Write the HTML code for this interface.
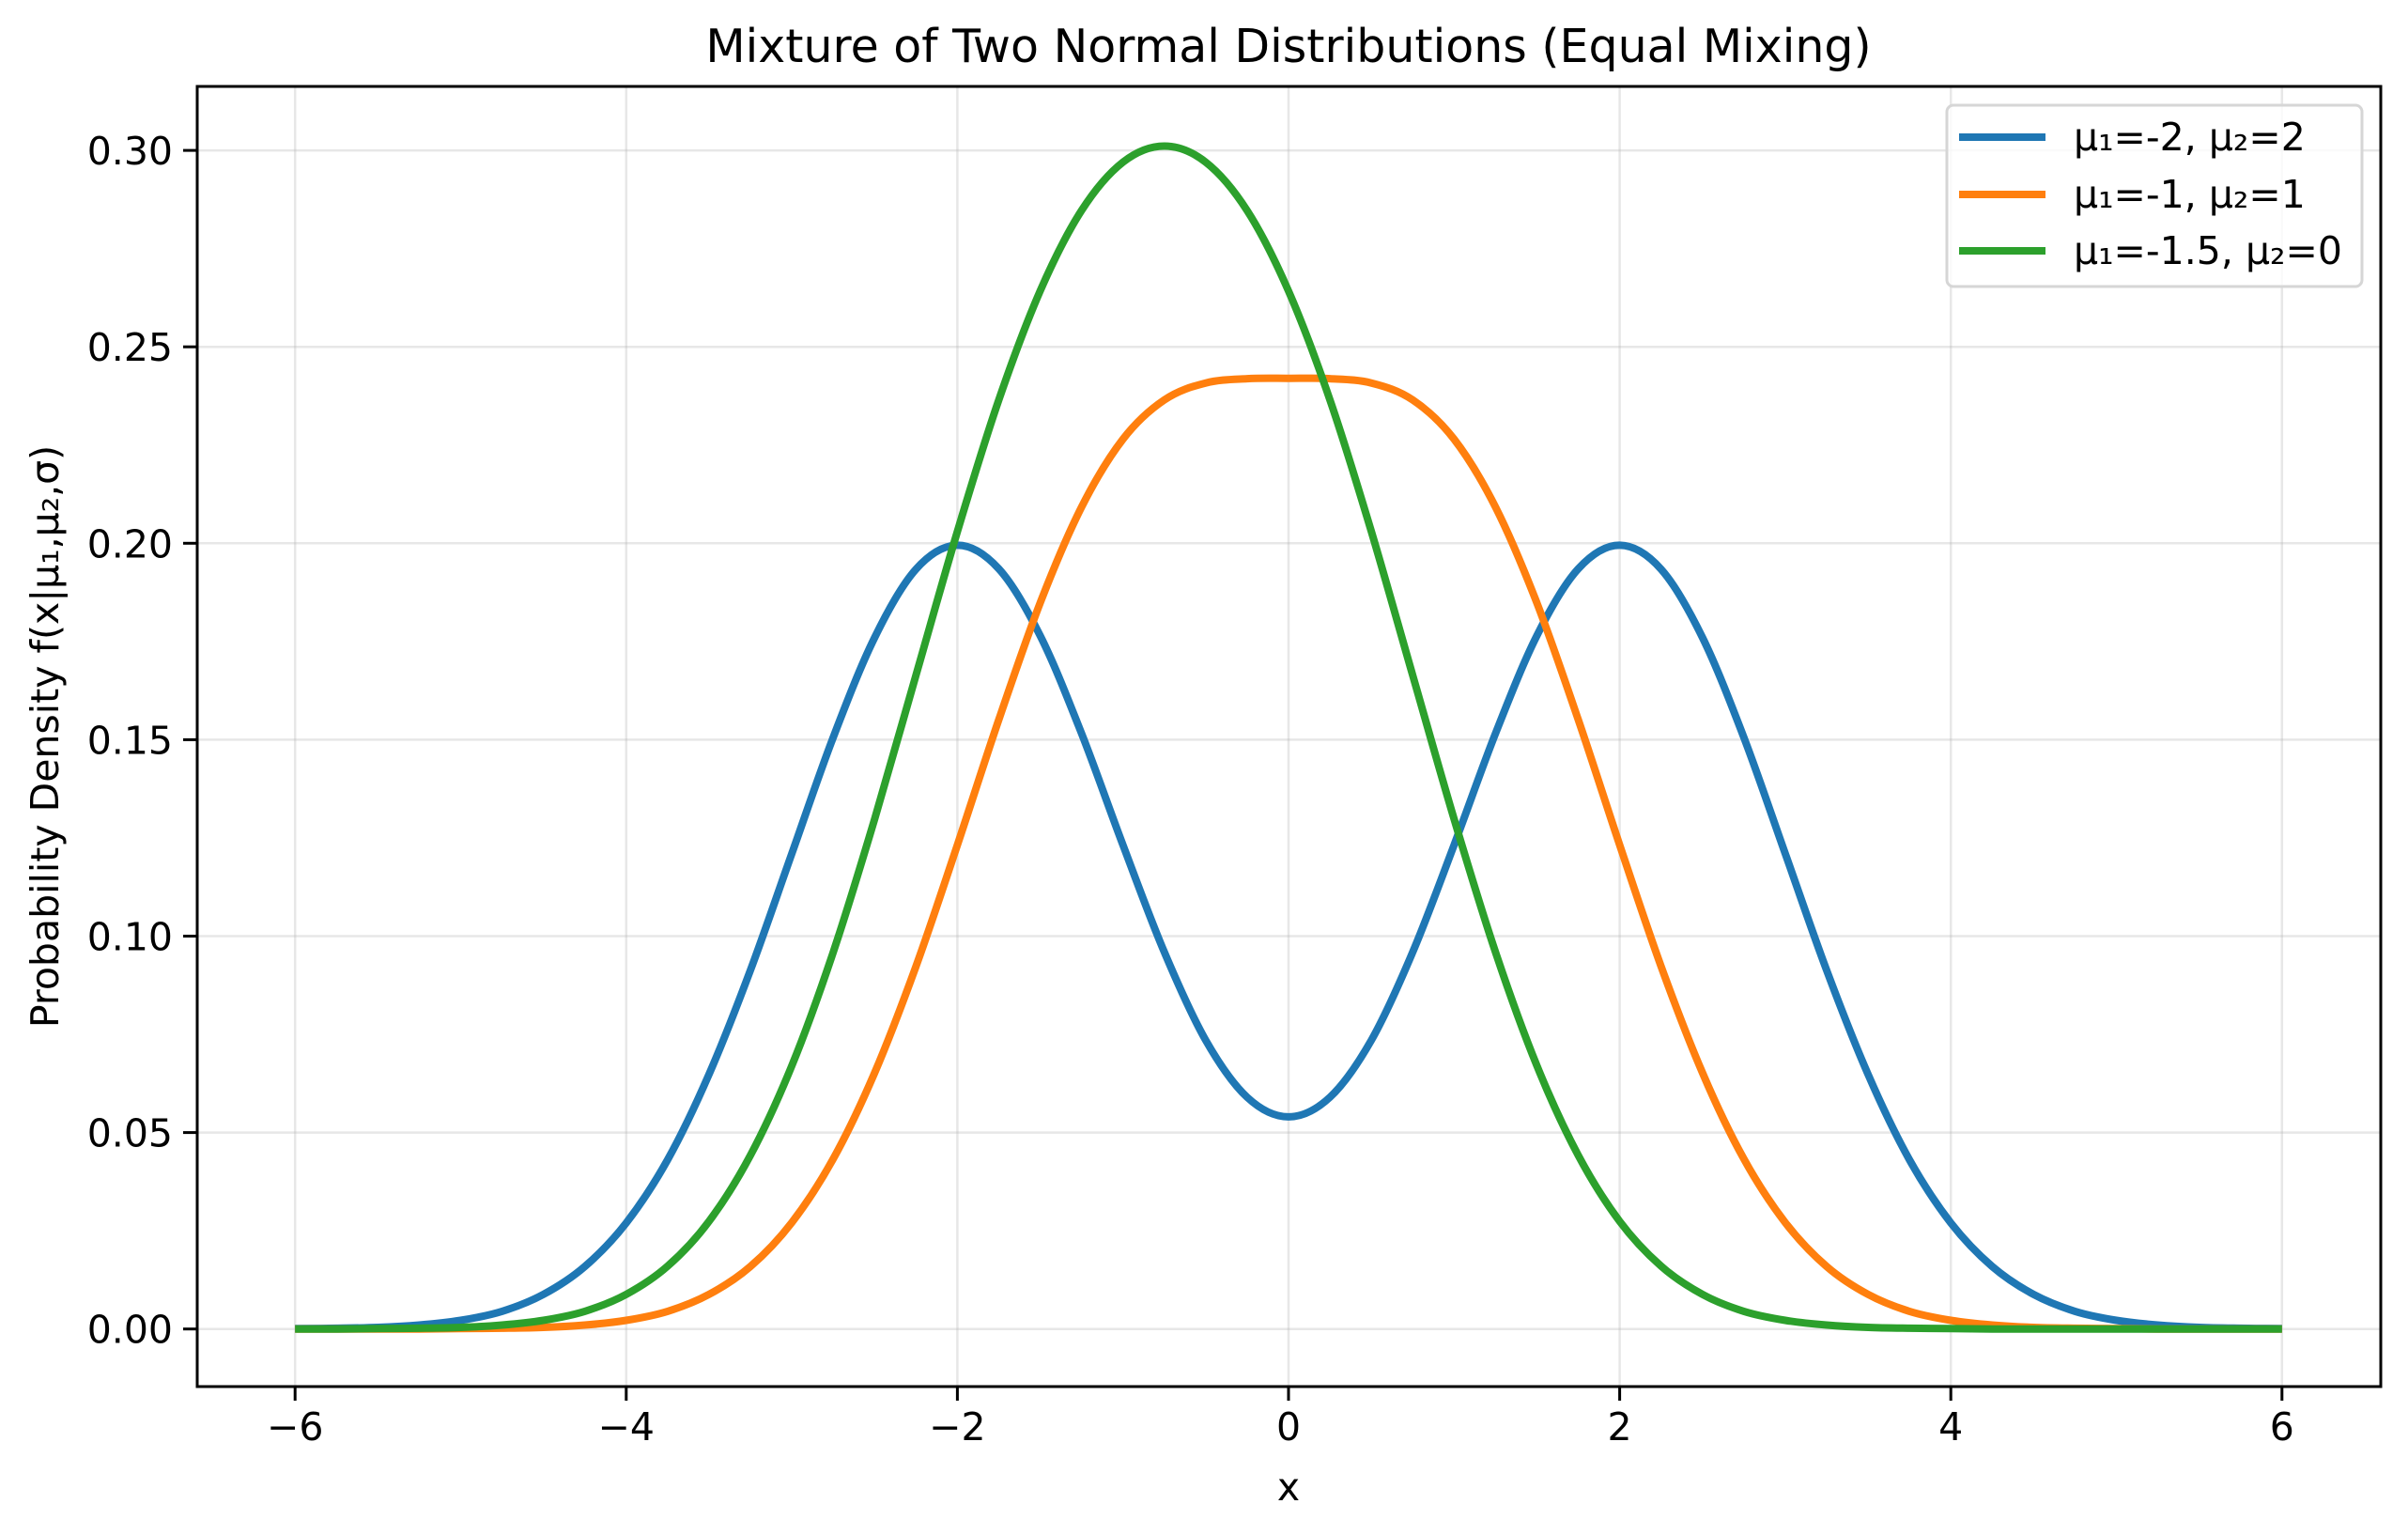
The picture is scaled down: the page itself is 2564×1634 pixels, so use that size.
<!DOCTYPE html>
<html><head><meta charset="utf-8"><style>
html,body{margin:0;padding:0;background:#fff;}
svg{display:block;font-family:"DejaVu Sans","Liberation Sans",sans-serif;}
</style></head><body>
<svg id="chart" width="2564" height="1634" xmlns="http://www.w3.org/2000/svg">
<rect width="2564" height="1634" fill="#fff"/>
<g id="grid"></g>
<g id="series"></g>
<rect x="210" y="92" width="2325" height="1384" fill="none" stroke="#000" stroke-width="3"/>
<g id="ticks"></g>
<text x="1372" y="66" text-anchor="middle" font-size="49">Mixture of Two Normal Distributions (Equal Mixing)</text>
<text x="1372" y="1597" text-anchor="middle" font-size="41">x</text>
<text x="0" y="0" transform="translate(62,784) rotate(-90)" text-anchor="middle" font-size="41">Probability Density f(x|μ₁,μ₂,σ)</text>
<g>
<rect x="2073" y="112" width="442" height="193" rx="7" fill="#fff" fill-opacity="0.8" stroke="#d6d6d6" stroke-width="3"/>
<line x1="2086" y1="146" x2="2178" y2="146" stroke="#1f77b4" stroke-width="8"/>
<text x="2208" y="160" font-size="41">μ₁=-2, μ₂=2</text>
<line x1="2086" y1="207" x2="2178" y2="207" stroke="#ff7f0e" stroke-width="8"/>
<text x="2208" y="221" font-size="41">μ₁=-1, μ₂=1</text>
<line x1="2086" y1="267" x2="2178" y2="267" stroke="#2ca02c" stroke-width="8"/>
<text x="2208" y="281" font-size="41">μ₁=-1.5, μ₂=0</text>
</g>
</svg>
<script>
const xValues = [-6,-5.75,-5.5,-5.25,-5,-4.75,-4.5,-4.25,-4,-3.75,-3.5,-3.25,-3,-2.75,-2.5,-2.25,-2,-1.75,-1.5,-1.25,-1,-0.75,-0.5,-0.25,0,0.25,0.5,0.75,1,1.25,1.5,1.75,2,2.25,2.5,2.75,3,3.25,3.5,3.75,4,4.25,4.5,4.75,5,5.25,5.5,5.75,6];
const blueValues = [0.0001,0.0002,0.0004,0.0010,0.0022,0.0045,0.0088,0.0159,0.0270,0.0431,0.0648,0.0913,0.1210,0.1506,0.1760,0.1934,0.1995,0.1935,0.1765,0.1516,0.1232,0.0959,0.0735,0.0590,0.0540,0.0590,0.0735,0.0959,0.1232,0.1516,0.1765,0.1935,0.1995,0.1934,0.1760,0.1506,0.1210,0.0913,0.0648,0.0431,0.0270,0.0159,0.0088,0.0045,0.0022,0.0010,0.0004,0.0002,0.0001];
const orangeValues = [0,0,0,0,0.0001,0.0002,0.0004,0.0010,0.0022,0.0045,0.0088,0.0159,0.0271,0.0433,0.0652,0.0923,0.1232,0.1551,0.1848,0.2092,0.2265,0.2365,0.2408,0.2419,0.2420,0.2419,0.2408,0.2365,0.2265,0.2092,0.1848,0.1551,0.1232,0.0923,0.0652,0.0433,0.0271,0.0159,0.0088,0.0045,0.0022,0.0010,0.0004,0.0002,0.0001,0,0,0,0];
const greenValues = [0,0,0.0001,0.0002,0.0004,0.0010,0.0022,0.0045,0.0088,0.0160,0.0274,0.0442,0.0670,0.0959,0.1298,0.1664,0.2030,0.2365,0.2642,0.2847,0.2970,0.3011,0.2970,0.2847,0.2642,0.2365,0.2030,0.1664,0.1298,0.0959,0.0670,0.0442,0.0274,0.0160,0.0088,0.0045,0.0022,0.0010,0.0004,0.0002,0.0001,0,0,0,0,0,0,0,0];
const xTicks = [-6,-4,-2,0,2,4,6];
const xTickLabels = ["−6","−4","−2","0","2","4","6"];
const yTicks = [0,0.05,0.10,0.15,0.20,0.25,0.30];
const yTickLabels = ["0.00","0.05","0.10","0.15","0.20","0.25","0.30"];

const NS = "http://www.w3.org/2000/svg";
const X = v => 1372 + v * 176.3;
const Y = v => 1414.7 - v * 4182;
function mk(tag, attrs, parent){const e=document.createElementNS(NS,tag);for(const k in attrs)e.setAttribute(k,attrs[k]);parent.appendChild(e);return e;}
const grid=document.getElementById('grid'), ticks=document.getElementById('ticks'), series=document.getElementById('series');
xTicks.forEach((t,i)=>{
  const g=mk('line',{x1:X(t),x2:X(t),y1:92,y2:1476,stroke:'#b0b0b0','stroke-opacity':0.3,'stroke-width':2.5},grid);
  
  
  const tk=mk('line',{x1:X(t),x2:X(t),y1:1476,y2:1491,stroke:'#000','stroke-width':3},ticks);
  
  
  const tl=mk('text',{x:X(t),y:1533,'text-anchor':'middle','font-size':41},ticks);
  
  
  tl.textContent=xTickLabels[i];
});
yTicks.forEach((t,i)=>{
  const g=mk('line',{x1:210,x2:2535,y1:Y(t),y2:Y(t),stroke:'#b0b0b0','stroke-opacity':0.3,'stroke-width':2.5},grid);
  
  
  const tk=mk('line',{x1:195,x2:210,y1:Y(t),y2:Y(t),stroke:'#000','stroke-width':3},ticks);
  
  
  const tl=mk('text',{x:184,y:Y(t)+15,'text-anchor':'end','font-size':41},ticks);
  
  
  tl.textContent=yTickLabels[i];
});
function smoothPath(xs, ys){
  const p=xs.map((x,i)=>[X(x),Y(ys[i])]);
  let d='M'+p[0][0].toFixed(1)+','+p[0][1].toFixed(1);
  for(let i=0;i<p.length-1;i++){
    const p0=p[i-1]||p[i], p1=p[i], p2=p[i+1], p3=p[i+2]||p2;
    const c1=[p1[0]+(p2[0]-p0[0])/6, p1[1]+(p2[1]-p0[1])/6];
    const c2=[p2[0]-(p3[0]-p1[0])/6, p2[1]-(p3[1]-p1[1])/6];
    d+='C'+c1[0].toFixed(1)+','+c1[1].toFixed(1)+' '+c2[0].toFixed(1)+','+c2[1].toFixed(1)+' '+p2[0].toFixed(1)+','+p2[1].toFixed(1);
  }
  return d;
}
const bl=mk('path',{d:smoothPath(xValues,blueValues),fill:'none',stroke:'#1f77b4','stroke-width':8,'stroke-linejoin':'round'},series);


const ol=mk('path',{d:smoothPath(xValues,orangeValues),fill:'none',stroke:'#ff7f0e','stroke-width':8,'stroke-linejoin':'round'},series);


const gl=mk('path',{d:smoothPath(xValues,greenValues),fill:'none',stroke:'#2ca02c','stroke-width':8,'stroke-linejoin':'round'},series);


</script>
</body></html>
